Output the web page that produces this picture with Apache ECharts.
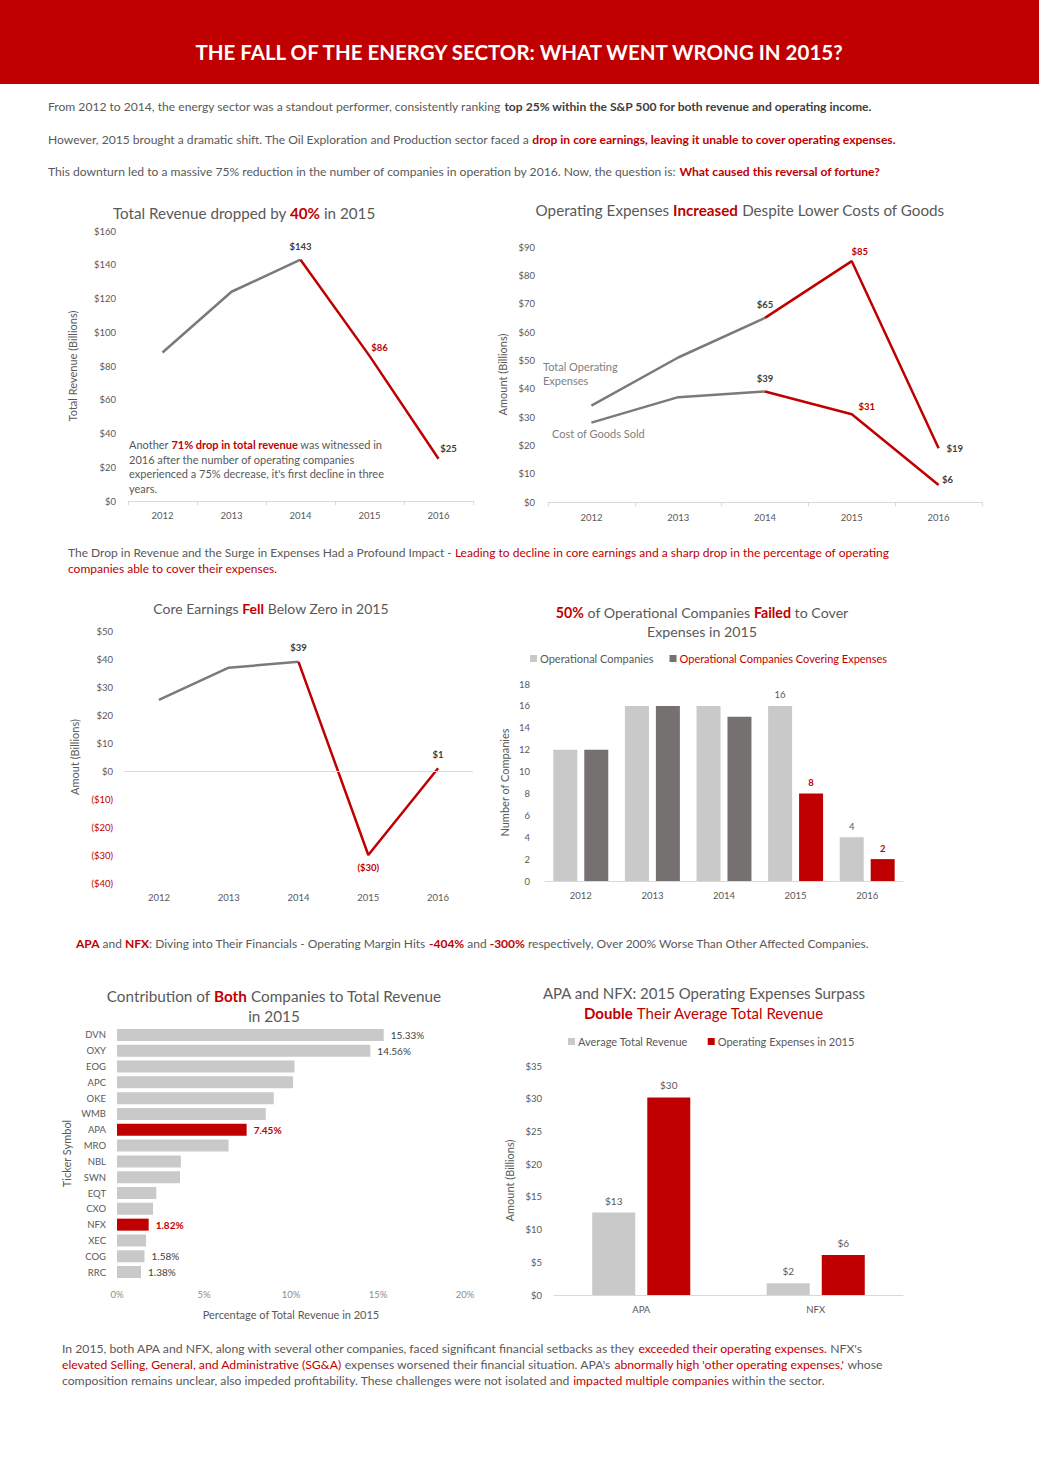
<!DOCTYPE html>
<html><head><meta charset="utf-8">
<script src="https://cdn.jsdelivr.net/npm/echarts@6/dist/echarts.min.js"></script>
<style>html,body{margin:0;padding:0;background:#fff;overflow:hidden}#c{width:1039px;height:1478px}</style>
</head><body><div id="c"></div>
<script>
// ---------- DATA ----------
const years = ['2012', '2013', '2014', '2015', '2016'];
const totalRevenue = [88, 124, 143, 86, 25];
const totalOpex = [34, 51, 65, 85, 19];
const costOfGoodsSold = [28, 37, 39, 31, 6];
const coreEarnings = [25.4, 36.9, 39, -30, 1];
const operationalCompanies = [12, 16, 16, 16, 4];
const coveringCompanies = [12, 16, 15, 8, 2];
const tickers = ['DVN','OXY','EOG','APC','OKE','WMB','APA','MRO','NBL','SWN','EQT','CXO','NFX','XEC','COG','RRC'];
const revenueShare2015 = [15.33, 14.56, 10.2, 10.12, 9.01, 8.55, 7.45, 6.41, 3.67, 3.62, 2.26, 2.07, 1.82, 1.67, 1.58, 1.38];
const focusTickers = ['APA', 'NFX'];
const labeledTickers = ['DVN', 'OXY', 'APA', 'NFX', 'COG', 'RRC'];
const focusCompanies = ['APA', 'NFX'];
const avgTotalRevenue = [12.6, 1.8];
const opex2015 = [30.2, 6.1];

// ---------- STYLE ----------
const F = 'Lato, "Open Sans", sans-serif';
const RED = '#c00000';
const TXT = '#595959';
const DARK = '#404040';
const LINEGRAY = '#7a7a7a';
const LIGHT = '#c9c9c9';
const MID = '#767171';
const AXIS = '#d9d9d9';

const money = v => v < 0 ? '($' + Math.abs(Math.round(v)) + ')' : '$' + Math.round(v);

function rich(size, lh) {
  const base = { fontSize: size, fontFamily: F, lineHeight: lh };
  return {
    b: Object.assign({}, base, { fontWeight: 'bold', fill: DARK, color: DARK }),
    r: Object.assign({}, base, { fill: RED, color: RED }),
    rb: Object.assign({}, base, { fontWeight: 'bold', fill: RED, color: RED }),
    g: Object.assign({}, base, { fill: TXT, color: TXT })
  };
}
function txt(x, y, text, o) {
  o = o || {};
  const size = o.size || 12, lh = o.lh || Math.round(size * 1.4);
  const al = o.align || 'left';
  return {
    type: 'text', x: x, y: y, silent: true,
    style: {
      text: text, fontFamily: F, fontSize: size, fontWeight: o.weight || 'normal',
      fill: o.color || TXT, lineHeight: lh,
      align: al, textAlign: al, verticalAlign: 'middle', textVerticalAlign: 'middle',
      rich: rich(size, lh)
    }
  };
}

// line data with label items
function lineData(arr, from, to, labels) {
  return arr.map((v, i) => {
    if (i < from || i > to) return '-';
    if (labels && labels[i]) return { value: v, label: Object.assign({ show: true, formatter: p => money(p.value), fontSize: 9.5, fontWeight: 'bold', fontFamily: F }, labels[i]) };
    return v;
  });
}

const yLabel = { color: TXT, fontSize: 9.5, fontFamily: F };
const yName = { color: TXT, fontSize: 11, fontFamily: F };

const option = {
  animation: false,
  backgroundColor: '#ffffff',
  textStyle: { fontFamily: F },
  grid: [
    { left: 128, top: 231, width: 345, height: 270 },
    { left: 548, top: 247, width: 434, height: 255 },
    { left: 124, top: 631, width: 349, height: 252 },
    { left: 545, top: 684, width: 358, height: 197 },
    { left: 117, top: 1027, width: 348, height: 253 },
    { left: 554, top: 1066, width: 349, height: 229 }
  ],
  xAxis: [
    { gridIndex: 0, type: 'category', data: years, axisLine: { lineStyle: { color: AXIS } }, axisTick: { show: true, length: 4, lineStyle: { color: AXIS } }, axisLabel: Object.assign({ margin: 9 }, yLabel) },
    { gridIndex: 1, type: 'category', data: years, axisLine: { lineStyle: { color: AXIS } }, axisTick: { show: true, length: 4, lineStyle: { color: AXIS } }, axisLabel: Object.assign({ margin: 10 }, yLabel) },
    { gridIndex: 2, type: 'category', data: years, position: 'bottom', axisLine: { show: false, onZero: false }, axisTick: { show: false }, axisLabel: Object.assign({ margin: 9 }, yLabel) },
    { gridIndex: 3, type: 'category', data: years, axisLine: { lineStyle: { color: AXIS } }, axisTick: { show: false }, axisLabel: Object.assign({ margin: 9 }, yLabel) },
    { gridIndex: 4, type: 'value', min: 0, max: 20, interval: 5, splitLine: { show: false }, axisLine: { show: false }, axisTick: { show: false },
      axisLabel: { formatter: '{value}%', color: '#8c8c8c', fontSize: 9.5, fontFamily: F, margin: 9 },
      name: 'Percentage of Total Revenue in 2015', nameLocation: 'middle', nameGap: 29, nameTextStyle: yName },
    { gridIndex: 5, type: 'category', data: focusCompanies, axisLine: { lineStyle: { color: AXIS } }, axisTick: { show: false }, axisLabel: Object.assign({ margin: 9 }, yLabel) }
  ],
  yAxis: [
    { gridIndex: 0, type: 'value', min: 0, max: 160, interval: 20, splitLine: { show: false }, axisLine: { show: false }, axisTick: { show: false },
      axisLabel: Object.assign({ formatter: v => '$' + v, margin: 12 }, yLabel),
      name: 'Total Revenue (Billions)', nameLocation: 'middle', nameGap: 50, nameTextStyle: yName },
    { gridIndex: 1, type: 'value', min: 0, max: 90, interval: 10, splitLine: { show: false }, axisLine: { show: false }, axisTick: { show: false },
      axisLabel: Object.assign({ formatter: v => '$' + v, margin: 13 }, yLabel),
      name: 'Amount (Billions)', nameLocation: 'middle', nameGap: 40, nameTextStyle: yName },
    { gridIndex: 2, type: 'value', min: -40, max: 50, interval: 10, splitLine: { show: false }, axisLine: { show: false }, axisTick: { show: false },
      axisLabel: Object.assign({ margin: 11, formatter: v => v < 0 ? '{n|($' + (-v) + ')}' : '$' + v,
        rich: { n: { color: RED, fontSize: 9.5, fontFamily: F } } }, yLabel),
      name: 'Amout (Billions)', nameLocation: 'middle', nameGap: 44, nameTextStyle: yName },
    { gridIndex: 3, type: 'value', min: 0, max: 18, interval: 2, splitLine: { show: false }, axisLine: { show: false }, axisTick: { show: false },
      axisLabel: Object.assign({ margin: 15 }, yLabel),
      name: 'Number of Companies', nameLocation: 'middle', nameGap: 35, nameTextStyle: yName },
    { gridIndex: 4, type: 'category', data: tickers, inverse: true, axisLine: { show: false }, axisTick: { show: false },
      axisLabel: Object.assign({ margin: 11 }, yLabel),
      name: 'Ticker Symbol', nameLocation: 'middle', nameGap: 45, nameTextStyle: yName },
    { gridIndex: 5, type: 'value', min: 0, max: 35, interval: 5, splitLine: { show: false }, axisLine: { show: false }, axisTick: { show: false },
      axisLabel: Object.assign({ formatter: v => '$' + v, margin: 12 }, yLabel),
      name: 'Amount (Billions)', nameLocation: 'middle', nameGap: 39, nameTextStyle: yName }
  ],
  legend: [
    { left: 525, top: 648, icon: 'rect', itemWidth: 7, itemHeight: 7, itemGap: 16, selectedMode: false,
      textStyle: { color: TXT, fontSize: 11, fontFamily: F, padding: [0, 0, 0, -2] },
      data: [{ name: 'Operational Companies' }, { name: 'Operational Companies Covering Expenses', textStyle: { color: RED } }] },
    { left: 563, top: 1031, icon: 'rect', itemWidth: 7, itemHeight: 7, itemGap: 20, selectedMode: false,
      textStyle: { color: TXT, fontSize: 11, fontFamily: F, padding: [0, 0, 0, -2] },
      data: ['Average Total Revenue', 'Operating Expenses in 2015'] }
  ],
  series: [
    // chart 1
    { type: 'line', xAxisIndex: 0, yAxisIndex: 0, data: lineData(totalRevenue, 0, 2), symbolSize: 0, lineStyle: { color: LINEGRAY, width: 2.5 }, itemStyle: { color: LINEGRAY } },
    { type: 'line', xAxisIndex: 0, yAxisIndex: 0, symbolSize: 0, lineStyle: { color: RED, width: 2.5 }, itemStyle: { color: RED },
      data: lineData(totalRevenue, 2, 4, { 2: { position: 'top', distance: 8, color: DARK }, 3: { position: 'top', offset: [10, 2], color: RED }, 4: { position: 'top', offset: [10, 0], color: DARK } }) },
    // chart 2
    { type: 'line', xAxisIndex: 1, yAxisIndex: 1, data: lineData(totalOpex, 0, 2), symbolSize: 0, lineStyle: { color: LINEGRAY, width: 2.5 }, itemStyle: { color: LINEGRAY } },
    { type: 'line', xAxisIndex: 1, yAxisIndex: 1, symbolSize: 0, lineStyle: { color: RED, width: 2.5 }, itemStyle: { color: RED },
      data: lineData(totalOpex, 2, 4, { 2: { position: 'top', distance: 8, color: DARK }, 3: { position: 'top', offset: [8, 0], color: RED }, 4: { position: 'right', distance: 8, color: DARK } }) },
    { type: 'line', xAxisIndex: 1, yAxisIndex: 1, data: lineData(costOfGoodsSold, 0, 2), symbolSize: 0, lineStyle: { color: LINEGRAY, width: 2.5 }, itemStyle: { color: LINEGRAY } },
    { type: 'line', xAxisIndex: 1, yAxisIndex: 1, symbolSize: 0, lineStyle: { color: RED, width: 2.5 }, itemStyle: { color: RED },
      data: lineData(costOfGoodsSold, 2, 4, { 2: { position: 'top', distance: 8, color: DARK }, 3: { position: 'top', offset: [15, 2], color: RED }, 4: { position: 'top', offset: [9, 4], color: DARK } }) },
    // chart 3
    { type: 'line', xAxisIndex: 2, yAxisIndex: 2, data: lineData(coreEarnings, 0, 2), symbolSize: 0, lineStyle: { color: LINEGRAY, width: 2.5 }, itemStyle: { color: LINEGRAY },
      markLine: { silent: true, symbol: 'none', label: { show: false }, lineStyle: { color: AXIS, type: 'solid', width: 1 }, data: [{ yAxis: 0 }] } },
    { type: 'line', xAxisIndex: 2, yAxisIndex: 2, symbolSize: 0, lineStyle: { color: RED, width: 2.5 }, itemStyle: { color: RED },
      data: lineData(coreEarnings, 2, 4, { 2: { position: 'top', distance: 9, color: DARK }, 3: { position: 'bottom', distance: 7, color: RED }, 4: { position: 'top', distance: 9, color: DARK } }) },
    // chart 4
    { name: 'Operational Companies', type: 'bar', xAxisIndex: 3, yAxisIndex: 3, barWidth: 24, barGap: '29%', itemStyle: { color: LIGHT },
      data: operationalCompanies.map((v, i) => i >= 3 ? { value: v, label: { show: true, position: 'top', distance: 6, color: TXT, fontSize: 9.5, fontFamily: F } } : v) },
    { name: 'Operational Companies Covering Expenses', type: 'bar', xAxisIndex: 3, yAxisIndex: 3, barWidth: 24, itemStyle: { color: MID },
      data: coveringCompanies.map((v, i) => i >= 3 ? { value: v, itemStyle: { color: RED }, label: { show: true, position: 'top', distance: 6, color: RED, fontWeight: 'bold', fontSize: 9.5, fontFamily: F } } : v) },
    // chart 5
    { type: 'bar', xAxisIndex: 4, yAxisIndex: 4, barWidth: 12,
      data: revenueShare2015.map((v, i) => {
        const t = tickers[i], f = focusTickers.indexOf(t) >= 0, l = labeledTickers.indexOf(t) >= 0;
        return { value: v, itemStyle: { color: f ? RED : LIGHT },
          label: { show: l, position: 'right', distance: 7, formatter: p => p.value.toFixed(2) + '%', color: f ? RED : DARK, fontWeight: f ? 'bold' : 'normal', fontSize: 10, fontFamily: F } };
      }) },
    // chart 6
    { name: 'Average Total Revenue', type: 'bar', xAxisIndex: 5, yAxisIndex: 5, barWidth: 43, barGap: '28%', itemStyle: { color: LIGHT },
      label: { show: true, position: 'top', distance: 7, formatter: p => money(p.value), color: TXT, fontSize: 10, fontFamily: F }, data: avgTotalRevenue },
    { name: 'Operating Expenses in 2015', type: 'bar', xAxisIndex: 5, yAxisIndex: 5, barWidth: 43, itemStyle: { color: RED },
      label: { show: true, position: 'top', distance: 7, formatter: p => money(p.value), color: TXT, fontSize: 10, fontFamily: F }, data: opex2015 }
  ],
  graphic: [
    { type: 'rect', shape: { x: 0, y: 0, width: 1039, height: 84 }, style: { fill: RED }, silent: true },
    txt(519, 52, 'THE FALL OF THE ENERGY SECTOR: WHAT WENT WRONG IN 2015?', { size: 20.5, weight: 'bold', color: '#ffffff', align: 'center' }),
    txt(48, 106, 'From 2012 to 2014, the energy sector was a standout performer, consistently ranking {b|top 25% within the S&P 500 for both revenue and operating income.}', { size: 12.1 }),
    txt(48, 139, 'However, 2015 brought a dramatic shift. The Oil Exploration and Production sector faced a {rb|drop in core earnings, leaving it unable to cover operating expenses.}', { size: 12.1 }),
    txt(48, 171, 'This downturn led to a massive 75% reduction in the number of companies in operation by 2016. Now, the question is: {rb|What caused this reversal of fortune?}', { size: 12.1 }),
    txt(244, 213, 'Total Revenue dropped by {rb|40%} in 2015', { size: 15.2, align: 'center' }),
    txt(740, 210, 'Operating Expenses {rb|Increased} Despite Lower Costs of Goods', { size: 15.2, align: 'center' }),
    txt(129, 466.5, 'Another {rb|71% drop in total revenue} was witnessed in\n2016 after the number of operating companies\nexperienced a 75% decrease, it\'s first decline in three\nyears.', { size: 11, lh: 14.5 }),
    txt(543, 373, 'Total Operating\nExpenses', { size: 11, lh: 14, color: '#7f7f7f' }),
    txt(552, 433, 'Cost of Goods Sold', { size: 11, color: '#7f7f7f' }),
    txt(68, 560, 'The Drop in Revenue and the Surge in Expenses Had a Profound Impact - {r|Leading to decline in core earnings and a sharp drop in the percentage of operating}\n{r|companies able to cover their expenses.}', { size: 12, lh: 16 }),
    txt(271, 608, 'Core Earnings {rb|Fell} Below Zero in 2015', { size: 14, align: 'center' }),
    txt(702, 621.5, '{rb|50%} of Operational Companies {rb|Failed} to Cover\nExpenses in 2015', { size: 14.2, lh: 19, align: 'center' }),
    txt(76, 943, '{rb|APA} and {rb|NFX}: Diving into Their Financials - Operating Margin Hits {rb|-404%} and {rb|-300%} respectively, Over 200% Worse Than Other Affected Companies.', { size: 12 }),
    txt(274, 1006, 'Contribution of {rb|Both} Companies to Total Revenue\nin 2015', { size: 15.3, lh: 20, align: 'center' }),
    txt(704, 1003, 'APA and NFX: 2015 Operating Expenses Surpass\n{rb|Double}{r| Their Average Total Revenue}', { size: 15, lh: 20, align: 'center' }),
    txt(62, 1364, 'In 2015, both APA and NFX, along with several other companies, faced significant financial setbacks as they {r|exceeded their operating expenses.} NFX\'s\n{r|elevated Selling, General, and Administrative (SG&A)} expenses worsened their financial situation. APA\'s {r|abnormally high \'other operating expenses,\'} whose\ncomposition remains unclear, also impeded profitability. These challenges were not isolated and {r|impacted multiple companies} within the sector.', { size: 12.2, lh: 16 })
  ]
};
const chart = echarts.init(document.getElementById('c'), null, { renderer: 'svg' });
chart.setOption(option);
</script>
</body></html>
